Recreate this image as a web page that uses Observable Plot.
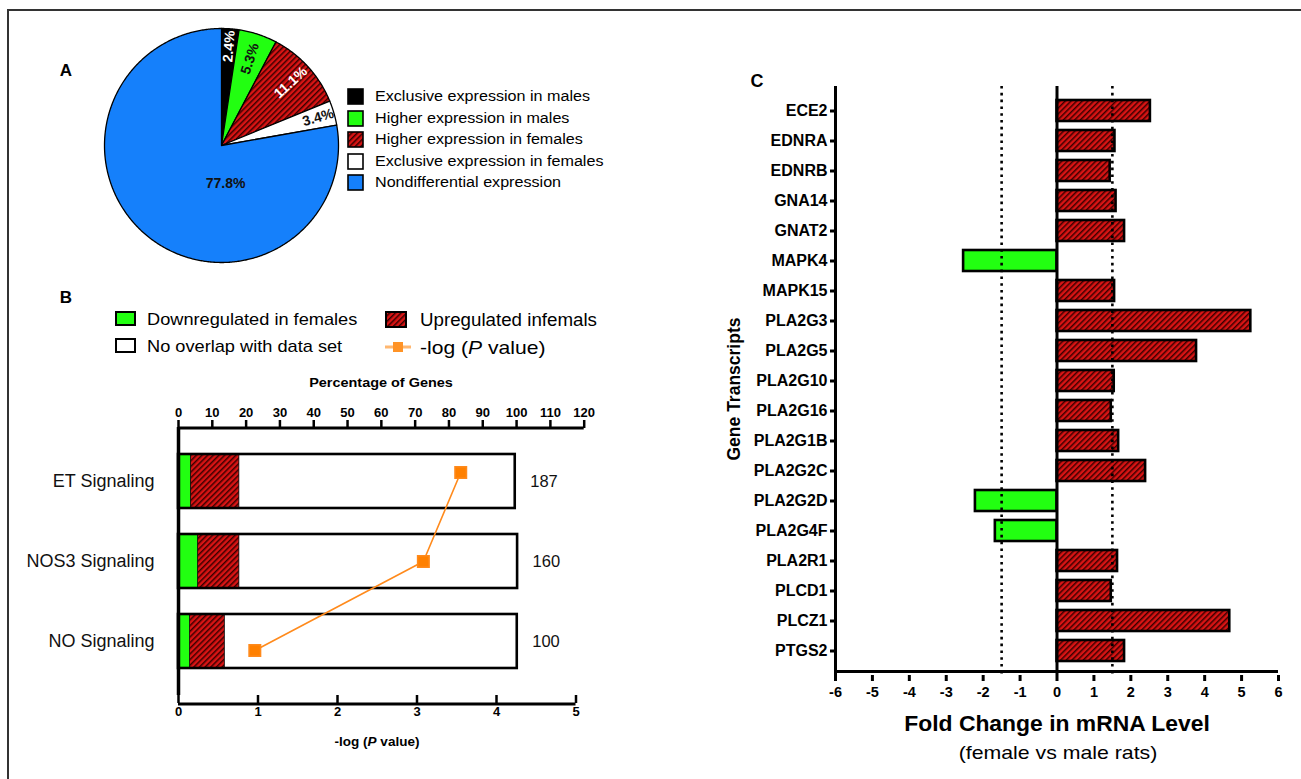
<!DOCTYPE html>
<html><head><meta charset="utf-8">
<script src="https://cdn.jsdelivr.net/npm/d3@7"></script>
<script src="https://cdn.jsdelivr.net/npm/@observablehq/plot@0.6"></script>
<style>
body{margin:0;background:#fff;font-family:"Liberation Sans",Arial,Helvetica,sans-serif;}
#root{position:relative;width:1301px;height:779px;overflow:hidden;background:#fff;}
#root svg.p{position:absolute;left:0;top:0;}
.lbl{position:absolute;white-space:nowrap;color:#000;line-height:1;}
.c{transform:translate(-50%,-50%);}
.l{transform:translate(0,-50%);transform-origin:0 50%;}
</style></head><body>
<svg width="0" height="0" style="position:absolute">
<defs>
<pattern id="hatch" patternUnits="userSpaceOnUse" width="4" height="4" patternTransform="rotate(45)">
<rect width="4" height="4" fill="#d81414"/>
<rect width="1.5" height="4" fill="#3a0000"/>
</pattern>
</defs></svg>
<div id="root"></div>
<script>
// ---------- DATA ----------
// Panel A
const pieCategories = ["Exclusive expression in males","Higher expression in males","Higher expression in females","Exclusive expression in females","Nondifferential expression"];
const piePercents = [2.4, 5.3, 11.1, 3.4, 77.8];
const pieColors = ["#000000","#22ff11","url(#hatch)","#ffffff","#1580fb"];
// Panel B
const pathways = ["ET Signaling","NOS3 Signaling","NO Signaling"];
const downPct = [3.7, 5.8, 3.4];
const upPct = [14.3, 12.2, 10.3];
const totalPct = [99.6, 100.3, 100.2];
const geneCounts = [187, 160, 100];
const negLogP = [3.55, 3.08, 0.96];
const pctTicks = [0,10,20,30,40,50,60,70,80,90,100,110,120];
const pTicks = [0,1,2,3,4,5];
// Panel C
const genes = ["ECE2","EDNRA","EDNRB","GNA14","GNAT2","MAPK4","MAPK15","PLA2G3","PLA2G5","PLA2G10","PLA2G16","PLA2G1B","PLA2G2C","PLA2G2D","PLA2G4F","PLA2R1","PLCD1","PLCZ1","PTGS2"];
const foldChange = [2.53,1.57,1.44,1.60,1.83,-2.53,1.56,5.25,3.78,1.55,1.47,1.67,2.40,-2.21,-1.67,1.64,1.47,4.68,1.83];
const thresholds = [-1.5, 1.5];
const fcTicks = [-6,-5,-4,-3,-2,-1,0,1,2,3,4,5,6];

// ---------- LAYOUT ----------
const FONT = '"Liberation Sans", Arial, Helvetica, sans-serif';
const W = 1301, H = 779;
const root = document.getElementById("root");
const base = {background:"transparent", fontFamily: FONT, overflow:"visible"};
function add(svg){ svg.classList.add("p"); root.appendChild(svg); }
function html(s){ root.insertAdjacentHTML("beforeend", s); }

// frame border
html(`<div style="position:absolute;left:7px;top:9px;width:1400px;height:900px;border-top:2.5px solid #333;border-left:2.5px solid #333;"></div>`);

// ---------- PANEL A (pie) ----------
const cum = d3.cumsum(piePercents);
const slices = piePercents.map((v,i)=>{
  const a0 = (cum[i]-v)/100*2*Math.PI, a1 = cum[i]/100*2*Math.PI;
  const n = Math.max(2, Math.ceil((a1-a0)/0.01));
  const pts = [{x:0,y:0}];
  for (let k=0;k<=n;k++){ const a = a0+(a1-a0)*k/n; pts.push({x:Math.sin(a), y:Math.cos(a)}); }
  return {pts, mid:(a0+a1)/2, v, i};
});
const labelR = [0.85, 0.78, 0.80, 0.86, 0.33];
const labelA = slices.map(s=> s.i===4 ? 174*Math.PI/180 : s.mid);
const labelRot = slices.map(s=> s.i===4 ? 0 : s.mid*180/Math.PI-90);
const labelFill = ["#fff","#111","#fff","#111","#111"];
const pieLabels = slices.map(s=>({
  x: labelR[s.i]*Math.sin(labelA[s.i]), y: labelR[s.i]*Math.cos(labelA[s.i]),
  text: piePercents[s.i].toFixed(1)+"%", rot: labelRot[s.i], fill: labelFill[s.i]
}));
add(Plot.plot({
  width: W, height: H, marginLeft: 104, marginRight: W-338, marginTop: 28, marginBottom: H-262, style: base,
  x: {domain:[-1,1], axis:null},
  y: {domain:[-1,1], axis:null},
  marks: [
    ...slices.map(s=>Plot.line(s.pts,{x:"x",y:"y",curve:"linear-closed",fill:pieColors[s.i],stroke:"#000",strokeWidth:1.3})),
    Plot.text(pieLabels.filter(d=>d.fill==="#fff"),{x:"x",y:"y",text:"text",rotate:"rot",fill:"#fff",fontWeight:"bold",fontSize:14}),
    Plot.text(pieLabels.filter(d=>d.fill!=="#fff"),{x:"x",y:"y",text:"text",rotate:"rot",fill:"#111",fontWeight:"bold",fontSize:14})
  ]
}));
// legend A
pieCategories.forEach((c,i)=>{
  const y = 96 + i*21.5;
  const fill = pieColors[i];
  html(`<svg style="position:absolute;left:347px;top:${y-8}px" width="17" height="17"><rect x="1" y="1" width="15" height="15" fill="${fill}" stroke="#000" stroke-width="1.6"/></svg>`);
  html(`<div class="lbl l" style="left:375px;top:${y}px;font-size:15.5px;transform:translate(0,-50%) scaleX(1.04)">${c}</div>`);
});
html(`<div class="lbl c" style="left:66px;top:70px;font-size:17px;font-weight:bold">A</div>`);

// ---------- PANEL B ----------
const dataB = pathways.map((p,i)=>({p, down:downPct[i], up:upPct[i], total:totalPct[i], n:geneCounts[i], nlp:negLogP[i]}));
const yB = {domain: pathways, paddingInner:0.33, paddingOuter:0.33};
add(Plot.plot({
  width: W, height: H, marginLeft: 178, marginRight: W-583.7, marginTop: 427, marginBottom: H-695, style: base,
  x: {domain:[0,120]},
  y: yB,
  marks: [
    Plot.barX(dataB,{x1:0,x2:"total",y:"p",fill:"#fff"}),
    Plot.barX(dataB,{x1:0,x2:"down",y:"p",fill:"#22ff11"}),
    Plot.barX(dataB,{x1:"down",x2:d=>d.down+d.up,y:"p",fill:"url(#hatch)",stroke:"#000",strokeWidth:0.8}),
    Plot.barX(dataB,{x1:0,x2:"total",y:"p",fill:"none",stroke:"#000",strokeWidth:2.6}),
    Plot.text(dataB,{x:"total",y:"p",text:d=>String(d.n),dx:15,textAnchor:"start",fontSize:16.5,fill:"#111"}),
    Plot.ruleX([0],{strokeWidth:3.5}),
    Plot.ruleY(pathways.slice(0,1),{x1:0,x2:120,dy:-53.6,strokeWidth:3}),
    Plot.axisX({anchor:"top",ticks:pctTicks,tickSize:8,strokeWidth:2.5,fontSize:13,fontWeight:"bold",label:null,tickPadding:3,tickFormat:d=>String(d)}),
    Plot.axisY({tickSize:0,fontSize:18,tickPadding:24,label:null,fill:"#111"})
  ]
}));
add(Plot.plot({
  width: W, height: H, marginLeft: 178, marginRight: W-575.5, marginTop: 427, marginBottom: H-695, style: base,
  x: {domain:[0,5]},
  y: {...yB, axis:null},
  marks: [
    Plot.line(dataB,{x:"nlp",y:"p",stroke:"#ff8a1c",strokeWidth:1.6}),
    Plot.dot(dataB,{x:"nlp",y:"p",symbol:"square",r:6.5,fill:"#ff8000",stroke:"#ff8a1c"}),
    Plot.ruleY(pathways.slice(2),{x1:0,x2:5,dy:53.6,strokeWidth:3}),
    Plot.axisX({ticks:pTicks,tickSize:8,strokeWidth:2.5,fontSize:13,fontWeight:"bold",label:null,tickPadding:3,tickFormat:d=>String(d)})
  ]
}));
html(`<div class="lbl c" style="left:66px;top:297px;font-size:17px;font-weight:bold">B</div>`);
// legend B
html(`<svg style="position:absolute;left:115px;top:311px" width="22" height="15"><rect x="1" y="1" width="19" height="13" fill="#22ff11" stroke="#000" stroke-width="2"/></svg>`);
html(`<div class="lbl l" style="left:147px;top:319px;font-size:17px;transform:translate(0,-50%) scaleX(1.07)">Downregulated in females</div>`);
html(`<svg style="position:absolute;left:115px;top:338px" width="22" height="15"><rect x="1" y="1" width="19" height="13" fill="#fff" stroke="#000" stroke-width="2"/></svg>`);
html(`<div class="lbl l" style="left:147px;top:346px;font-size:17px;transform:translate(0,-50%) scaleX(1.07)">No overlap with data set</div>`);
html(`<svg style="position:absolute;left:385px;top:311px" width="22" height="17"><rect x="1" y="1" width="20" height="15" fill="url(#hatch)" stroke="#000" stroke-width="2"/></svg>`);
html(`<div class="lbl l" style="left:420px;top:321px;font-size:17.5px;transform:translate(0,-50%) scaleX(1.07)">Upregulated infemals</div>`);
html(`<svg style="position:absolute;left:384px;top:340px" width="28" height="14"><line x1="1" y1="7" x2="27" y2="7" stroke="#ffa64d" stroke-width="3" opacity="0.8"/><rect x="9" y="2" width="10" height="10" fill="#ff9326"/></svg>`);
html(`<div class="lbl l" style="left:420px;top:347px;font-size:19px;transform:translate(0,-50%) scaleX(1.11)">-log (<i>P</i> value)</div>`);
html(`<div class="lbl c" style="left:381px;top:383px;font-size:13.5px;font-weight:bold;transform:translate(-50%,-50%) scaleX(1.07)">Percentage of Genes</div>`);
html(`<div class="lbl c" style="left:377px;top:742px;font-size:13.5px;font-weight:bold">-log (<i>P</i> value)</div>`);

// ---------- PANEL C ----------
const dataC = genes.map((g,i)=>({gene:g, fc:foldChange[i]}));
add(Plot.plot({
  width: W, height: H, marginLeft: 835, marginRight: W-1278, marginTop: 86, marginBottom: H-675, style: base,
  x: {domain:[-6,6]},
  y: {domain: genes, paddingInner:0.29, paddingOuter:0.32},
  marks: [
    Plot.barX(dataC.filter(d=>d.fc>0),{x1:0,x2:"fc",y:"gene",fill:"url(#hatch)",stroke:"#000",strokeWidth:2.6}),
    Plot.barX(dataC.filter(d=>d.fc<0),{x1:0,x2:"fc",y:"gene",fill:"#22ff11",stroke:"#000",strokeWidth:2.6}),
    Plot.ruleX(thresholds,{stroke:"#000",strokeWidth:2.6,strokeDasharray:"2.6,4.2"}),
    Plot.ruleX([0],{strokeWidth:3}),
    Plot.ruleX([-6],{strokeWidth:3}),
    Plot.ruleY(genes.slice(-1),{x1:-6,x2:6,dy:20.5,strokeWidth:3}),
    Plot.axisX({ticks:fcTicks,tickSize:6,strokeWidth:3,fontSize:14.5,fontWeight:"bold",label:null,tickPadding:5,tickFormat:d=>String(d)}),
    Plot.axisY({tickSize:5,strokeWidth:3,fontSize:16,fontWeight:"bold",label:null,tickPadding:3})
  ]
}));
html(`<div class="lbl c" style="left:757px;top:81px;font-size:18px;font-weight:bold">C</div>`);
html(`<div class="lbl c" style="left:735px;top:389px;font-size:17.5px;font-weight:bold;transform:translate(-50%,-50%) rotate(-90deg)">Gene Transcripts</div>`);
html(`<div class="lbl c" style="left:1057px;top:724px;font-size:22px;font-weight:bold;transform:translate(-50%,-50%) scaleX(1.04)">Fold Change in mRNA Level</div>`);
html(`<div class="lbl c" style="left:1058px;top:752px;font-size:19px;transform:translate(-50%,-50%) scaleX(1.12)">(female vs male rats)</div>`);
</script>
</body></html>
